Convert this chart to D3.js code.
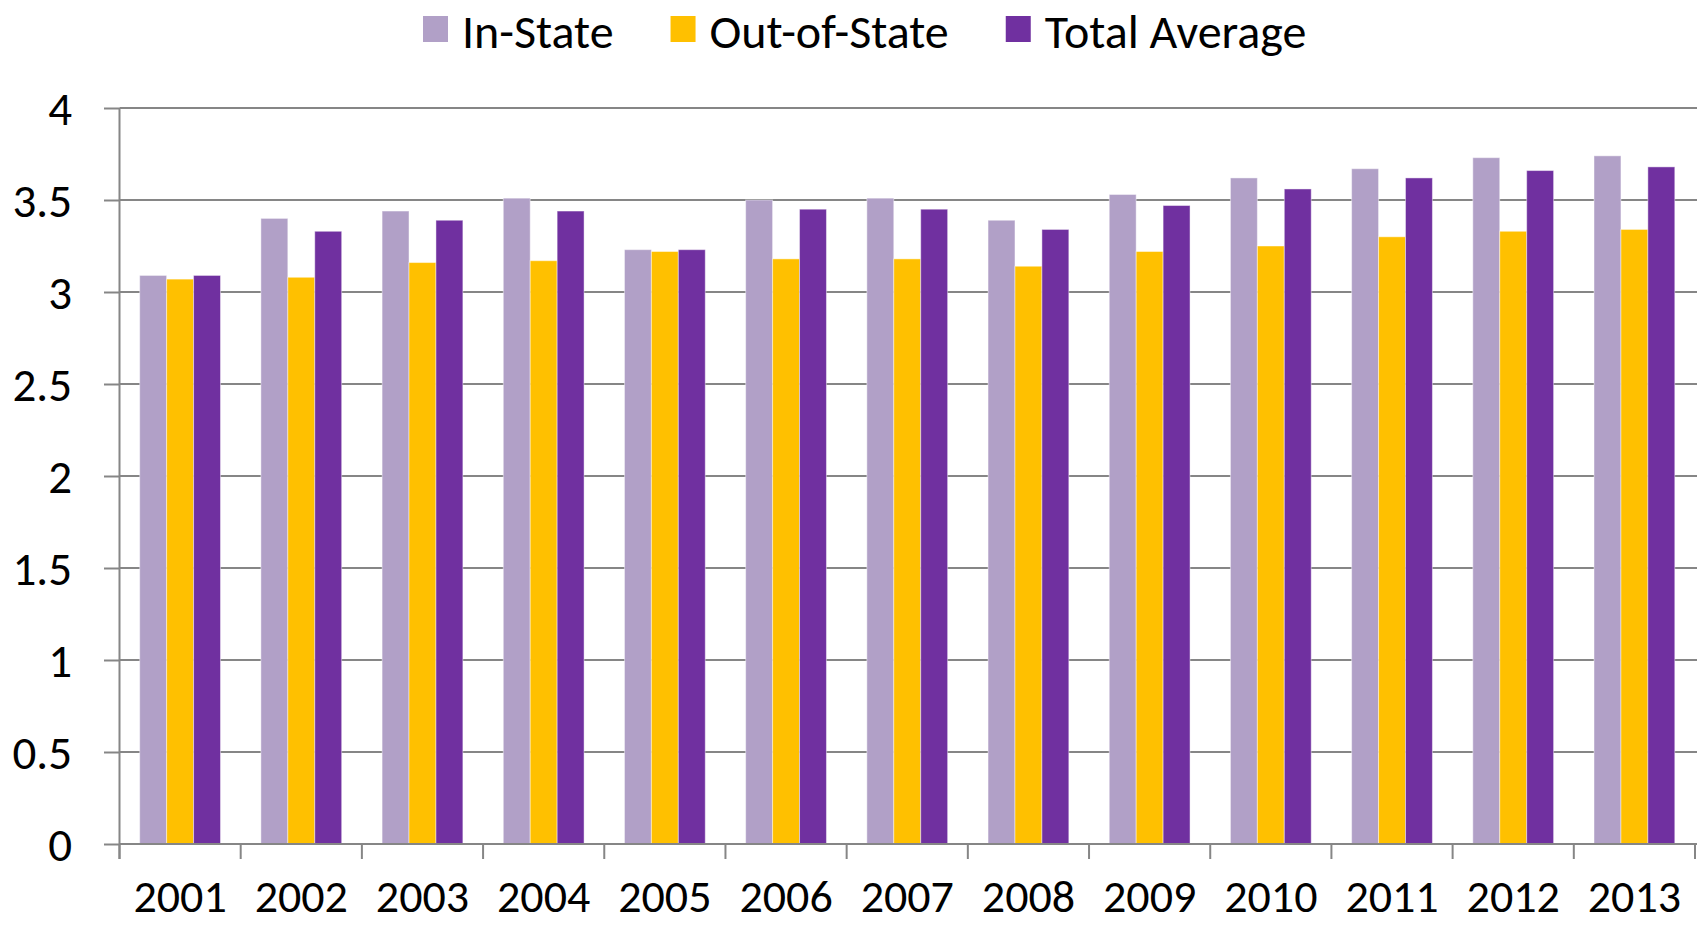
<!DOCTYPE html>
<html>
<head>
<meta charset="utf-8">
<script src="https://cdn.jsdelivr.net/npm/d3@7"></script>
<style>
  html, body { margin: 0; padding: 0; background: #fff; }
  svg text { font-family: Calibri, Carlito, Lato, sans-serif; fill: #000; }
</style>
</head>
<body>
<svg id="graph" width="1698" height="926"></svg>
<script>
"use strict";

var years = ["2001", "2002", "2003", "2004", "2005", "2006", "2007",
             "2008", "2009", "2010", "2011", "2012", "2013"];
var seriesNames = ["In-State", "Out-of-State", "Total Average"];
var seriesColors = ["#b1a0c7", "#ffc000", "#7030a0"];

var inState    = [3.09, 3.40, 3.44, 3.51, 3.23, 3.50, 3.51, 3.39, 3.53, 3.62, 3.67, 3.73, 3.74];
var outOfState = [3.07, 3.08, 3.16, 3.17, 3.22, 3.18, 3.18, 3.14, 3.22, 3.25, 3.30, 3.33, 3.34];
var totalAvg   = [3.09, 3.33, 3.39, 3.44, 3.23, 3.45, 3.45, 3.34, 3.47, 3.56, 3.62, 3.66, 3.68];

var yTicks = [0, 0.5, 1, 1.5, 2, 2.5, 3, 3.5, 4];

var svg = d3.select("#graph");
var plot = {left: 119.5, right: 1695, top: 108, bottom: 844, gridRight: 1697};
var gridColor = "#868686";
var labelSize = 47;

var x0 = d3.scaleBand().domain(years).range([plot.left, plot.right]).padding(0);
var x1 = d3.scaleBand().domain(seriesNames).range([0, x0.bandwidth()])
  .paddingInner(0).paddingOuter(0.75);
var y = d3.scaleLinear().domain([0, 4]).range([plot.bottom, plot.top]);
var color = d3.scaleOrdinal().domain(seriesNames).range(seriesColors);

// gridlines
svg.append("g")
  .selectAll("line")
  .data(yTicks.filter(d => d > 0))
  .join("line")
    .attr("x1", plot.left)
    .attr("x2", plot.gridRight)
    .attr("y1", d => y(d))
    .attr("y2", d => y(d))
    .attr("stroke", gridColor)
    .attr("stroke-width", 2);

// bars
var rows = years.map((yr, i) => ({
  year: yr,
  values: [inState[i], outOfState[i], totalAvg[i]]
}));

svg.append("g")
  .selectAll("g")
  .data(rows)
  .join("g")
    .attr("transform", d => "translate(" + x0(d.year) + ",0)")
  .selectAll("rect")
  .data(d => d.values.map((v, j) => ({name: seriesNames[j], value: v})))
  .join("rect")
    .attr("x", d => x1(d.name))
    .attr("y", d => y(d.value))
    .attr("width", x1.bandwidth())
    .attr("height", d => y(0) - y(d.value))
    .attr("fill", d => color(d.name))
    .attr("stroke", "rgba(255,255,255,0.45)")
    .attr("stroke-width", 1);

// y axis
var yAxis = svg.append("g")
  .attr("transform", "translate(" + plot.left + ",0)")
  .call(d3.axisLeft(y)
    .tickValues(yTicks)
    .tickSize(15.5)
    .tickPadding(32)
    .tickFormat(d3.format("")));
yAxis.select(".domain").remove();
yAxis.append("line")
  .attr("x1", 0).attr("x2", 0)
  .attr("y1", plot.top).attr("y2", plot.bottom + 15)
  .attr("stroke", gridColor).attr("stroke-width", 2);
yAxis.selectAll(".tick line").attr("stroke", gridColor).attr("stroke-width", 2);
yAxis.selectAll(".tick text")
  .attr("font-size", labelSize)
  .attr("dy", "0.36em")
  .style("font-family", "Calibri, Carlito, Lato, sans-serif");

// x axis
var xAxis = svg.append("g")
  .attr("transform", "translate(0," + plot.bottom + ")")
  .call(d3.axisBottom(x0).tickSize(0).tickPadding(0));
xAxis.select(".domain")
  .attr("d", "M" + plot.left + ",0H" + plot.gridRight)
  .attr("stroke", gridColor).attr("stroke-width", 2);
xAxis.selectAll(".tick text")
  .attr("font-size", 46)
  .attr("y", 68)
  .attr("dy", null)
  .style("font-family", "Calibri, Carlito, Lato, sans-serif");
xAxis.append("g")
  .selectAll("line")
  .data(years.concat(["end"]))
  .join("line")
    .attr("x1", (d, i) => i < years.length ? x0(d) : plot.right)
    .attr("x2", (d, i) => i < years.length ? x0(d) : plot.right)
    .attr("y1", 0).attr("y2", 15)
    .attr("stroke", gridColor).attr("stroke-width", 2);

// legend
var legend = svg.append("g").attr("transform", "translate(423,0)");
var lx = 0;
seriesNames.forEach(function(name) {
  var item = legend.append("g").attr("transform", "translate(" + lx + ",0)");
  item.append("rect")
    .attr("x", 0).attr("y", 16)
    .attr("width", 25).attr("height", 26)
    .attr("fill", color(name));
  var t = item.append("text")
    .attr("x", 39).attr("y", 47.5)
    .attr("font-size", 48)
    .text(name);
  lx += 39 + t.node().getComputedTextLength() + 57;
});
</script>
</body>
</html>
